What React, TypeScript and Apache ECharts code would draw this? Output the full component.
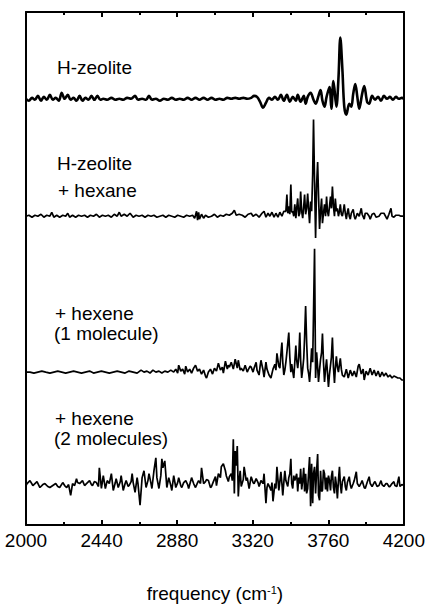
import { useEffect, useRef } from "react";
import * as echarts from "echarts";

// frequency axis (cm-1)
const xMin = 2000;
const xMax = 4200;
const xStep = 440;

// vertical offsets of the stacked spectra (arbitrary intensity units)
const offsets = [432, 313, 155, 40];

const labelLines = [
  ["H-zeolite"],
  ["H-zeolite", "+ hexane"],
  ["+ hexene", "(1 molecule)"],
  ["+ hexene", "(2 molecules)"],
];

// H-zeolite
const s1: [number, number][] = [
  [2000, 0], [2017, -2], [2035, 1], [2052, -1], [2069, 3], [2087, -2], [2104, 2], [2121, -1], [2139, 4], [2156, -1],
  [2173, 1], [2191, -2], [2208, 6], [2225, 0], [2243, 4], [2260, -1], [2277, 1], [2294, -2], [2312, 3], [2329, -2],
  [2346, 1], [2364, -1], [2381, 3], [2398, -1], [2416, 3], [2433, -1], [2450, 0], [2473, -1], [2497, 1], [2520, -1],
  [2543, 0], [2566, -1], [2589, 1], [2612, 0], [2635, 3], [2652, -1], [2676, 0], [2699, -1], [2716, 3], [2733, -1],
  [2756, 0], [2779, -2], [2803, 0], [2826, -1], [2849, 1], [2872, -1], [2895, 0], [2918, -1], [2941, 1], [2964, -1],
  [2987, 1], [3010, -1], [3034, 1], [3057, -1], [3080, 1], [3103, -1], [3126, 0], [3149, -1], [3172, 1], [3195, 0],
  [3218, 1], [3241, 0], [3265, 1], [3288, 0], [3311, 1], [3328, 3], [3345, 2], [3363, -3], [3380, -9], [3397, -4],
  [3415, 1], [3432, -1], [3449, 2], [3467, -1], [3484, 4], [3501, -2], [3519, 4], [3536, -3], [3553, 2], [3571, -2],
  [3582, 4], [3599, -3], [3617, 3], [3628, -5], [3640, 2], [3657, 6], [3674, -1], [3686, -5], [3703, 3], [3715, 9],
  [3726, -2], [3738, -8], [3750, 2], [3767, 12], [3778, -10], [3790, 18], [3807, -8], [3819, 20], [3830, 62], [3842, 30],
  [3853, -8], [3865, -16], [3882, -5], [3894, -8], [3905, 5], [3917, 15], [3929, 2], [3940, -10], [3957, 5], [3969, 13],
  [3986, -3], [3998, -5], [4015, 3], [4032, -1], [4050, 2], [4067, -2], [4084, 3], [4102, 0], [4119, 2], [4136, -1],
  [4154, 2], [4171, 0], [4188, 1], [4200, 0],
];

// H-zeolite + hexane
const s2: [number, number][] = [
  [2000, 0], [2017, 1], [2035, -1], [2052, 1], [2069, 0], [2087, 2], [2104, -1], [2121, 1], [2139, 0], [2150, 4],
  [2162, -1], [2179, 1], [2196, -1], [2214, 1], [2231, 0], [2243, 3], [2254, -1], [2271, 1], [2289, -1], [2306, 1],
  [2323, 0], [2341, 1], [2358, -1], [2375, 1], [2393, 0], [2410, 2], [2427, -1], [2445, 1], [2462, 0], [2479, 1],
  [2497, -1], [2514, 2], [2531, 0], [2543, 4], [2554, 0], [2572, 2], [2589, 0], [2606, 3], [2624, -1], [2641, 1],
  [2658, 0], [2676, 1], [2693, -1], [2710, 1], [2728, 0], [2745, 1], [2762, -1], [2779, 0], [2797, 1], [2814, -1],
  [2831, 1], [2849, 0], [2866, -1], [2883, 1], [2901, 0], [2918, -1], [2935, 1], [2953, 0], [2970, 1], [2982, -2],
  [2993, 5], [2999, -4], [3005, 4], [3010, -3], [3022, 2], [3034, -2], [3045, 1], [3062, -1], [3080, 0], [3097, 2],
  [3114, -1], [3132, 1], [3149, 0], [3166, 2], [3184, 1], [3201, 3], [3213, 6], [3224, 1], [3241, 2], [3259, 1],
  [3276, -1], [3293, 2], [3311, 3], [3322, 0], [3340, 2], [3357, -1], [3374, 3], [3386, 5], [3397, -1], [3409, 3],
  [3420, 0], [3432, 4], [3444, -1], [3455, 3], [3467, -1], [3478, 4], [3490, 0], [3501, 5], [3513, 5], [3519, 22],
  [3524, 3], [3530, 10], [3536, 2], [3542, 32], [3547, 4], [3553, 5], [3559, 0], [3565, 12], [3571, -2], [3576, 8],
  [3582, 18], [3588, 0], [3594, 3], [3599, 25], [3605, 5], [3611, -2], [3617, 10], [3622, 22], [3628, 2], [3634, 8],
  [3640, 23], [3646, 5], [3651, -7], [3657, 15], [3663, 5], [3669, 42], [3674, 98], [3680, 35], [3686, -22], [3692, 32],
  [3698, 55], [3703, 22], [3709, -13], [3715, 5], [3721, 18], [3726, -7], [3732, 3], [3738, 12], [3744, 0], [3750, 20],
  [3755, 5], [3761, 0], [3767, 10], [3773, 20], [3778, 8], [3784, 30], [3790, 10], [3796, 0], [3801, 18], [3807, 5],
  [3813, 8], [3819, 0], [3825, 5], [3830, 12], [3836, 2], [3842, 0], [3848, 6], [3853, 12], [3859, 3], [3865, -3],
  [3871, 4], [3876, 8], [3882, 0], [3888, -3], [3894, 3], [3905, 7], [3911, 0], [3917, -3], [3929, 3], [3940, 0],
  [3952, 8], [3957, 2], [3969, -3], [3975, 3], [3986, 3], [3998, 0], [4004, -3], [4015, 2], [4027, 3], [4038, -1],
  [4055, 0], [4067, 3], [4084, 3], [4096, -1], [4102, -3], [4113, 2], [4125, 8], [4131, 0], [4142, -1], [4154, 1],
  [4171, 1], [4183, 0], [4200, 0],
];

// + hexene (1 molecule)
const s3: [number, number][] = [
  [2000, 0], [2023, 0], [2046, -1], [2069, 0], [2092, 1], [2115, 0], [2139, -1], [2162, 0], [2185, 1], [2208, 0],
  [2231, -1], [2254, 0], [2277, 1], [2300, 0], [2323, -1], [2346, 0], [2370, 1], [2393, -1], [2416, 0], [2439, 1],
  [2462, 0], [2485, -1], [2508, 0], [2531, 1], [2554, 0], [2577, -1], [2600, 1], [2624, 0], [2647, -1], [2670, 2],
  [2687, 0], [2704, 1], [2722, -1], [2739, 2], [2756, 0], [2774, 1], [2791, -1], [2808, 1], [2826, 0], [2843, 2],
  [2860, 0], [2872, 3], [2883, -1], [2889, 7], [2901, 1], [2912, 3], [2924, -2], [2930, 6], [2941, 0], [2953, 3],
  [2964, -1], [2976, 4], [2987, 7], [2999, 1], [3010, 3], [3022, -2], [3034, 2], [3045, -4], [3051, -6], [3062, 0],
  [3074, 3], [3086, -2], [3097, 4], [3109, 1], [3120, 9], [3132, 2], [3143, 5], [3149, -1], [3161, 11], [3172, 3],
  [3178, 7], [3184, 5], [3195, 10], [3207, 3], [3218, 13], [3230, 4], [3236, 12], [3247, 2], [3253, 4], [3265, 1],
  [3276, 7], [3288, 0], [3293, 2], [3305, 6], [3311, 5], [3322, 0], [3328, 4], [3340, 10], [3345, 2], [3357, -3],
  [3363, 6], [3368, 12], [3380, 2], [3386, -5], [3397, 10], [3403, 3], [3415, -3], [3426, -6], [3438, 3], [3449, 8],
  [3455, 2], [3461, 19], [3472, 6], [3478, 4], [3484, 18], [3490, 30], [3495, 10], [3501, -3], [3507, 2], [3513, 10],
  [3519, 20], [3530, 40], [3536, 15], [3542, 0], [3547, 8], [3559, -6], [3565, 10], [3571, 27], [3576, 12], [3582, 4],
  [3588, 15], [3594, 40], [3599, 12], [3605, -6], [3611, 3], [3617, 14], [3622, 35], [3628, 67], [3634, 30], [3640, 4],
  [3646, -2], [3651, -10], [3657, 5], [3663, 24], [3669, 10], [3674, 60], [3680, 125], [3686, -6], [3692, 20], [3698, 5],
  [3703, -10], [3709, 2], [3715, 13], [3721, 20], [3726, 39], [3732, 10], [3738, -10], [3744, 3], [3750, 13], [3755, 0],
  [3761, -15], [3767, -2], [3773, 7], [3778, 15], [3784, 35], [3790, 5], [3796, -11], [3801, 4], [3807, 16], [3813, 5],
  [3819, 0], [3825, 8], [3830, 14], [3836, 3], [3842, -3], [3853, -5], [3865, 3], [3876, -6], [3888, 2], [3900, -4],
  [3911, 1], [3923, -5], [3934, 6], [3940, 8], [3952, -2], [3963, 3], [3969, -8], [3980, 1], [3992, -3], [4004, 4],
  [4015, -3], [4027, 2], [4038, -4], [4050, 1], [4061, -5], [4073, 0], [4084, -4], [4096, -1], [4108, -5], [4119, -3],
  [4131, -6], [4142, -4], [4154, -5], [4165, -6], [4177, -6], [4188, -8], [4200, -8],
];

// + hexene (2 molecules)
const s4: [number, number][] = [
  [2000, 0], [2006, 2], [2023, 5], [2040, 0], [2052, 2], [2064, 4], [2081, -2], [2098, 1], [2110, 2], [2127, -1],
  [2139, -2], [2156, 0], [2173, 2], [2185, -1], [2196, -2], [2214, 3], [2225, 0], [2237, -2], [2248, 1], [2260, -10],
  [2271, 2], [2283, 0], [2294, 7], [2300, 3], [2312, 2], [2329, 5], [2341, 0], [2352, 2], [2370, 5], [2381, 1],
  [2387, 0], [2398, 4], [2410, 3], [2422, -1], [2427, 18], [2439, -3], [2450, 10], [2462, -3], [2473, 5], [2485, 2],
  [2497, 12], [2508, -5], [2520, 3], [2525, 7], [2537, -2], [2549, 4], [2554, 10], [2566, -5], [2577, 2], [2583, 5],
  [2595, -1], [2600, 0], [2612, 4], [2618, 12], [2624, 3], [2635, -7], [2647, 8], [2652, 2], [2664, -20], [2676, 8],
  [2687, 15], [2699, -2], [2710, 5], [2716, 12], [2728, 2], [2733, -3], [2745, 15], [2756, 28], [2762, 8], [2774, -3],
  [2785, 10], [2791, 27], [2797, 18], [2808, 25], [2820, -2], [2831, 8], [2843, 0], [2849, -5], [2860, 10], [2872, -2],
  [2883, 3], [2889, 8], [2901, 0], [2907, -2], [2918, 3], [2930, 5], [2941, 1], [2947, -3], [2958, 4], [2964, 8],
  [2976, 2], [2987, -2], [2999, 3], [3005, 5], [3016, 2], [3022, 18], [3034, 2], [3045, 4], [3051, 6], [3062, 5],
  [3074, -2], [3080, -1], [3091, 4], [3103, 9], [3109, 0], [3120, 12], [3132, 8], [3137, 19], [3149, 22], [3161, 15],
  [3166, 10], [3178, 4], [3184, 9], [3195, 12], [3201, 5], [3207, 47], [3213, -8], [3218, 35], [3224, 20], [3230, 40],
  [3236, -11], [3241, 5], [3247, 15], [3253, -1], [3265, 6], [3270, 19], [3282, 5], [3288, 8], [3299, -3], [3311, 9],
  [3322, 3], [3328, 2], [3340, 7], [3351, 3], [3357, -1], [3368, 5], [3380, 2], [3386, 12], [3397, -18], [3403, -2],
  [3409, 2], [3420, -2], [3426, -5], [3432, 3], [3438, -16], [3449, 2], [3455, -3], [3461, 19], [3472, -5], [3478, 4],
  [3484, 14], [3490, 2], [3495, -10], [3501, 3], [3507, 15], [3513, 5], [3524, -1], [3530, 8], [3536, 12], [3542, 27],
  [3547, 2], [3553, -3], [3559, 10], [3565, 5], [3576, 12], [3582, -6], [3588, 8], [3594, 2], [3599, 17], [3605, -4],
  [3611, 5], [3617, 18], [3622, -6], [3628, 12], [3634, -8], [3640, -3], [3646, 15], [3651, 29], [3657, -21], [3663, 22],
  [3669, -18], [3674, 12], [3680, 19], [3686, -8], [3692, 15], [3698, 32], [3703, -10], [3709, -15], [3715, 15], [3721, -6],
  [3726, -5], [3732, 16], [3738, 12], [3744, -4], [3750, 8], [3755, -6], [3761, 10], [3767, 5], [3773, -5], [3778, 9],
  [3784, 15], [3790, -2], [3796, -8], [3801, 9], [3807, 1], [3813, -13], [3819, 5], [3825, 19], [3830, 2], [3836, -8],
  [3842, 4], [3853, 9], [3859, -1], [3865, -5], [3871, 3], [3882, 9], [3888, 1], [3894, -3], [3905, 2], [3911, 5],
  [3923, 14], [3929, 2], [3940, -1], [3952, 3], [3957, 5], [3969, -2], [3975, -3], [3986, 3], [3998, 9], [4004, 2],
  [4015, -1], [4027, 3], [4032, 4], [4044, -1], [4055, 0], [4067, 5], [4073, 1], [4084, -1], [4096, 2], [4102, 2],
  [4113, -1], [4119, -1], [4131, 2], [4142, 4], [4148, 0], [4159, -1], [4171, 9], [4177, -1], [4188, 1], [4200, 0],
];

const spectra = [s1, s2, s3, s4];

const FONT = "'Liberation Sans', Arial, Helvetica, sans-serif";

export default function App() {
  const ref = useRef<HTMLDivElement>(null);

  useEffect(() => {
    if (!ref.current) return;
    const chart = echarts.init(ref.current, null, { renderer: "svg" });

    const gridLeft = 26;
    const gridTop = 12;
    const gridW = 381;
    const gridH = 520;

    const labelPos = [
      [{ x: 57, y: 67 }],
      [{ x: 57, y: 163 }, { x: 58, y: 190 }],
      [{ x: 55, y: 313 }, { x: 54, y: 333 }],
      [{ x: 55, y: 418 }, { x: 54, y: 438 }],
    ];

    const graphics: any[] = [];
    labelLines.forEach((lines, i) => {
      lines.forEach((t, j) => {
        const p = labelPos[i][j];
        graphics.push({
          type: "text",
          x: p.x,
          y: p.y,
          style: {
            text: t,
            fill: "#000",
            font: `19px ${FONT}`,
            verticalAlign: "middle",
            align: "left",
          },
        });
      });
    });

    const axisCommon = {
      type: "value" as const,
      min: xMin,
      max: xMax,
      interval: xStep,
      axisLine: { show: true, onZero: false, lineStyle: { color: "#000", width: 2 } },
      axisTick: { show: true, inside: true, length: 5, lineStyle: { color: "#000", width: 2 } },
      minorTick: { show: true, splitNumber: 2, length: 3, lineStyle: { color: "#000", width: 2 } },
      splitLine: { show: false },
    };

    chart.setOption({
      animation: false,
      backgroundColor: "#fff",
      grid: { left: gridLeft, top: gridTop, width: gridW, height: gridH, containLabel: false },
      xAxis: [
        {
          ...axisCommon,
          position: "bottom",
          axisLabel: {
            color: "#000",
            fontSize: 19,
            fontFamily: FONT,
            margin: 6,
            formatter: (v: number) => String(v),
          },
          name: "frequency (cm{sup|-1})",
          nameLocation: "middle",
          nameGap: 59,
          nameTextStyle: {
            color: "#000",
            fontSize: 19,
            fontFamily: FONT,
            rich: {
              sup: { fontSize: 11, fontFamily: FONT, color: "#000", verticalAlign: "top", lineHeight: 19 },
            },
          },
        },
        {
          ...axisCommon,
          position: "top",
          axisLabel: { show: false },
        },
      ],
      yAxis: [
        {
          type: "value",
          min: 0,
          max: 520,
          position: "left",
          axisLine: { show: true, onZero: false, lineStyle: { color: "#000", width: 2 } },
          axisTick: { show: false },
          axisLabel: { show: false },
          splitLine: { show: false },
        },
        {
          type: "value",
          min: 0,
          max: 520,
          position: "right",
          axisLine: { show: true, onZero: false, lineStyle: { color: "#000", width: 2 } },
          axisTick: { show: false },
          axisLabel: { show: false },
          splitLine: { show: false },
        },
      ],
      series: spectra.map((s, i) => ({
        type: "line",
        xAxisIndex: 0,
        yAxisIndex: 0,
        showSymbol: false,
        symbol: "none",
        smooth: i === 0 ? 0.35 : false,
        lineStyle: { color: "#000", width: i === 0 ? 2.6 : 1.7 },
        data: s.map(([f, v]) => [f, v + offsets[i]]),
        z: 3,
      })),
      graphic: graphics,
    });

    return () => chart.dispose();
  }, []);

  return (
    <div
      ref={ref}
      style={{ position: "fixed", left: 0, top: 0, width: 428, height: 608, background: "#fff" }}
    />
  );
}
